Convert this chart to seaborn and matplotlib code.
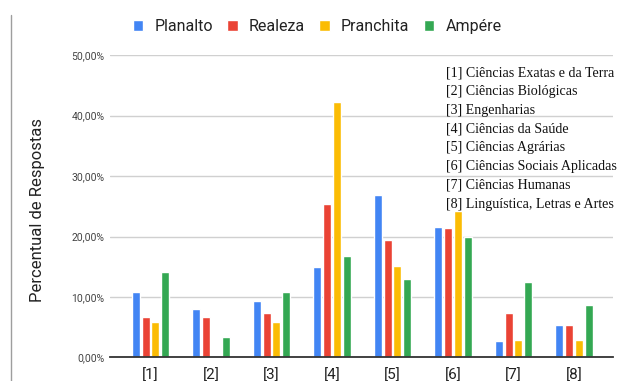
import matplotlib
matplotlib.use("Agg")
import matplotlib.pyplot as plt
from matplotlib.lines import Line2D
import seaborn as sns
import pandas as pd

categories = ['[1]', '[2]', '[3]', '[4]', '[5]', '[6]', '[7]', '[8]']
planalto = [10.8, 8.05, 9.4, 14.9, 26.9, 21.6, 2.65, 5.35]
realeza = [6.6, 6.6, 7.4, 25.4, 19.4, 21.4, 7.4, 5.35]
pranchita = [5.9, 0.0, 5.9, 42.3, 15.1, 24.2, 2.9, 2.9]
ampere = [14.2, 3.3, 10.8, 16.8, 12.9, 19.9, 12.5, 8.66]
series_names = ['Planalto', 'Realeza', 'Pranchita', 'Ampére']
colors = ['#4285F4', '#EA4335', '#FBBC04', '#34A853']
y_ticks = [0, 10, 20, 30, 40, 50]
area_labels = [
    '[1] Ciências Exatas e da Terra',
    '[2] Ciências Biológicas',
    '[3] Engenharias',
    '[4] Ciências da Saúde',
    '[5] Ciências Agrárias',
    '[6] Ciências Sociais Aplicadas',
    '[7] Ciências Humanas',
    '[8] Linguística, Letras e Artes',
]

rows = []
for name, vals in zip(series_names, [planalto, realeza, pranchita, ampere]):
    for c, v in zip(categories, vals):
        rows.append({'area': c, 'campus': name, 'valor': v})
df = pd.DataFrame(rows)

sns.set_theme(style='white')
plt.rcParams['font.family'] = ['Roboto', 'DejaVu Sans']

W, H = 622, 381
fig = plt.figure(figsize=(W / 100, H / 100), dpi=100)
ax = fig.add_axes([109.5 / W, (H - 357.3) / H, (613 - 109.5) / W, (357.3 - 55.3) / H])

sns.barplot(data=df, x='area', y='valor', hue='campus', order=categories,
            hue_order=series_names, palette=colors, width=0.65, gap=0.18,
            saturation=1, ax=ax, legend=True, zorder=3)

ax.set_xlim(-0.678, 7.645)
ax.set_ylim(0, 50)
ax.set_yticks(y_ticks)
ax.set_yticklabels([f"{v:.2f}%".replace('.', ',') for v in y_ticks],
                   fontsize=7.5, color='#444444')
ax.tick_params(axis='y', length=0, pad=3.6)
ax.tick_params(axis='x', length=0, pad=8, labelsize=11, labelcolor='#222222')
ax.set_xlabel('')
ax.set_ylabel('')
ax.grid(axis='y', color='#d0d0d0', linewidth=1, zorder=0)
ax.set_axisbelow(True)
for s in ['top', 'right', 'left']:
    ax.spines[s].set_visible(False)
ax.spines['bottom'].set_color('#333333')
ax.spines['bottom'].set_linewidth(1.3)
ax.spines['bottom'].set_zorder(4)

handles, labels = ax.get_legend_handles_labels()
ax.get_legend().remove()
fig.legend(handles, labels, loc='center', bbox_to_anchor=(0.51, 1 - 26.7 / H),
           ncol=4, frameon=False, fontsize=11.5, handlelength=0.65,
           handleheight=0.65, handletextpad=0.7, columnspacing=0.9,
           labelcolor='#222222')

fig.text(38 / W, 1 - 210.5 / H, 'Percentual de Respostas', rotation=90,
         ha='center', va='center', fontsize=12, color='#222222')

for i, lab in enumerate(area_labels):
    fig.text(446 / W, 1 - (72.7 + i * 18.76) / H, lab, ha='left', va='center',
             fontsize=10.1, color='#111111', family=['Liberation Serif'])

fig.add_artist(Line2D([10.5 / W, 10.5 / W], [0, 1 - 15 / H],
                      transform=fig.transFigure, color='#9e9e9e', linewidth=1))

fig.savefig('out.png', dpi=100)
